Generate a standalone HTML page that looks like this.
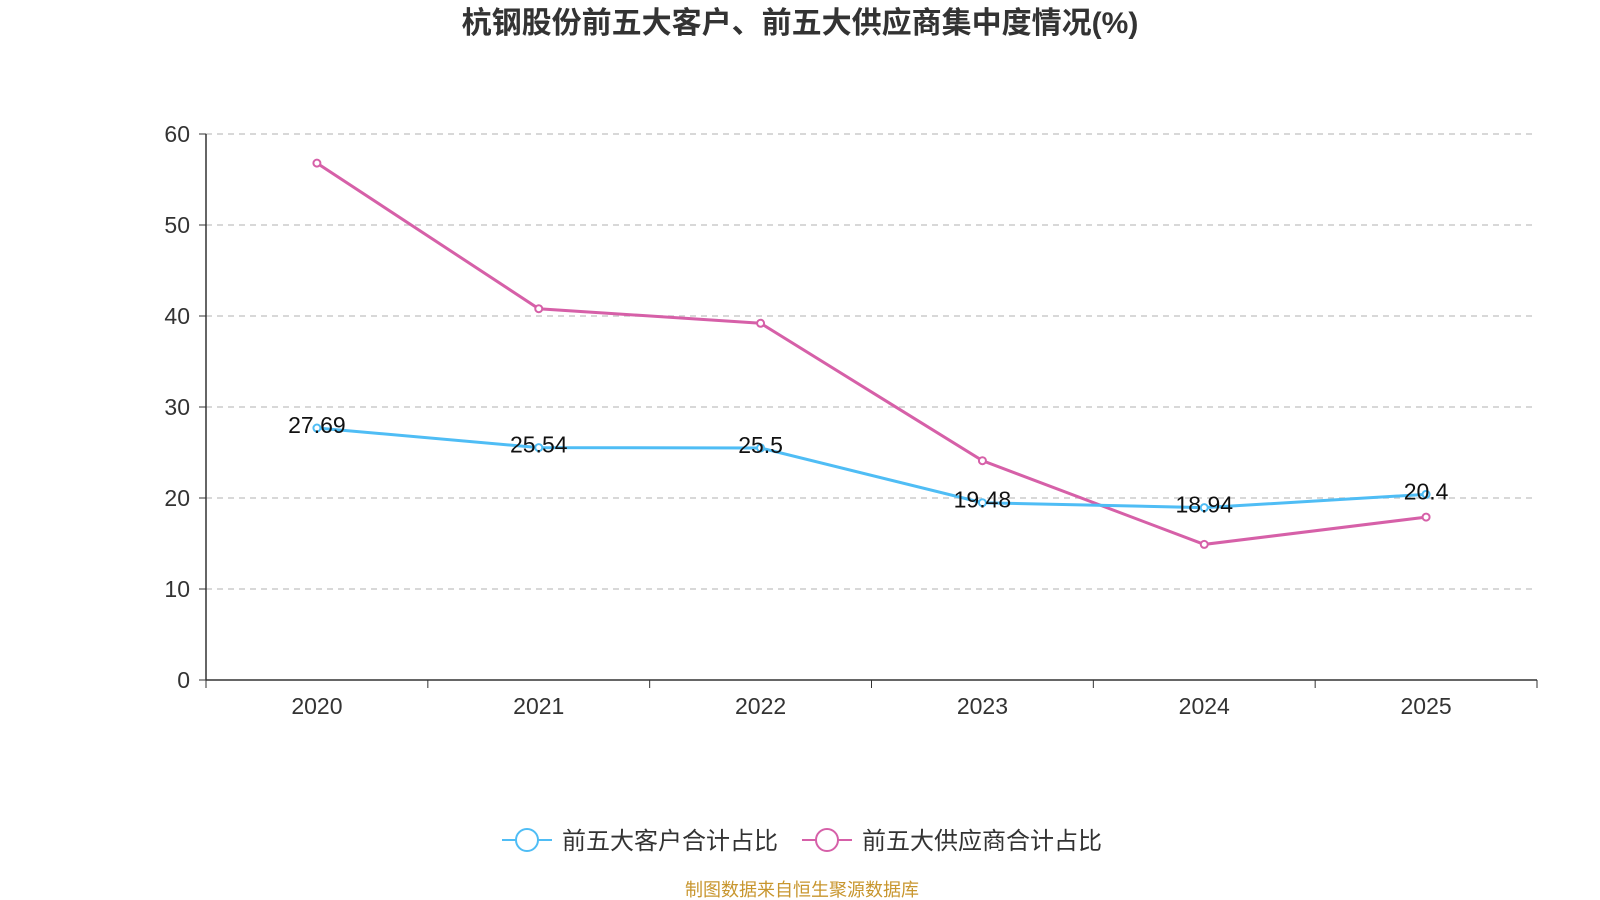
<!DOCTYPE html>
<html><head><meta charset="utf-8">
<style>
html,body{margin:0;padding:0;background:#fff;}
svg{display:block;font-family:"Liberation Sans","Noto Sans CJK SC",sans-serif;}
</style></head>
<body>
<svg id="chart" width="1600" height="900">
<text x="800" y="33" text-anchor="middle" font-size="30" font-weight="bold" fill="#333">杭钢股份前五大客户、前五大供应商集中度情况(%)</text>
<g id="grid"></g><g id="axes"></g><g id="series"></g>
<g>
<g>
<line x1="502" y1="840" x2="552" y2="840" stroke="#4fbdf5" stroke-width="2"/>
<circle cx="527" cy="840" r="11" fill="#fff" stroke="#4fbdf5" stroke-width="2"/>
<text x="562" y="849" font-size="24" fill="#333">前五大客户合计占比</text></g>
<g>
<line x1="802" y1="840" x2="852" y2="840" stroke="#d660a8" stroke-width="2"/>
<circle cx="827" cy="840" r="11" fill="#fff" stroke="#d660a8" stroke-width="2"/>
<text x="862" y="849" font-size="24" fill="#333">前五大供应商合计占比</text></g>
</g>
<text x="802" y="896" text-anchor="middle" font-size="18" fill="#c8962e">制图数据来自恒生聚源数据库</text>
</svg>
<script>
const categories=["2020","2021","2022","2023","2024","2025"];
const customerValues=[27.69,25.54,25.5,19.48,18.94,20.4];
const supplierValues=[56.8,40.8,39.2,24.1,14.9,17.9];
const yTicks=[0,10,20,30,40,50,60];
const NS="http://www.w3.org/2000/svg";
const L=206,R=1537,T=134,B=680,yMax=60;
const step=(R-L)/categories.length;
const xs=i=>L+step*(i+0.5);
const ys=v=>B-(v/yMax)*(B-T);
function mk(tag,attrs,parent,text){const e=document.createElementNS(NS,tag);for(const k in attrs)e.setAttribute(k,attrs[k]);if(text!==undefined)e.textContent=text;parent.appendChild(e);return e;}
const grid=document.getElementById('grid'),axes=document.getElementById('axes'),ser=document.getElementById('series');
yTicks.forEach(t=>{
 if(t>0){const g=mk('line',{x1:L,x2:R,y1:ys(t),y2:ys(t),stroke:'#ccc','stroke-dasharray':'6,5','stroke-width':1.5},grid);
 
 }
 mk('line',{x1:L-7,x2:L,y1:ys(t),y2:ys(t),stroke:'#333'},axes);
 const lb=mk('text',{x:L-16,y:ys(t)+8,'text-anchor':'end','font-size':23,fill:'#333'},axes,t);
 
 
});
const ya=mk('line',{x1:L,x2:L,y1:T,y2:B,stroke:'#333','stroke-width':1.5},axes);


const xa=mk('line',{x1:L,x2:R,y1:B,y2:B,stroke:'#333','stroke-width':1.5},axes);


for(let i=0;i<=categories.length;i++)mk('line',{x1:L+step*i,x2:L+step*i,y1:B,y2:B+8,stroke:'#333'},axes);
categories.forEach((c,i)=>{const t=mk('text',{x:xs(i),y:B+34,'text-anchor':'middle','font-size':23,fill:'#333'},axes,c);
 
 });
function line(vals,color,name,labels){
 const p=mk('polyline',{points:vals.map((v,i)=>xs(i)+','+ys(v)).join(' '),fill:'none',stroke:color,'stroke-width':3},ser);
 
 
 vals.forEach((v,i)=>{const c=mk('circle',{cx:xs(i),cy:ys(v),r:3.5,fill:'#fff',stroke:color,'stroke-width':2},ser);
  
  });
 if(labels)vals.forEach((v,i)=>{const t=mk('text',{x:xs(i),y:ys(v)+5,'text-anchor':'middle','font-size':23,fill:'#111'},ser,v);
  
  });
}
line(supplierValues,'#d660a8','supplier',false);
line(customerValues,'#4fbdf5','customer',true);
</script>
</body></html>
